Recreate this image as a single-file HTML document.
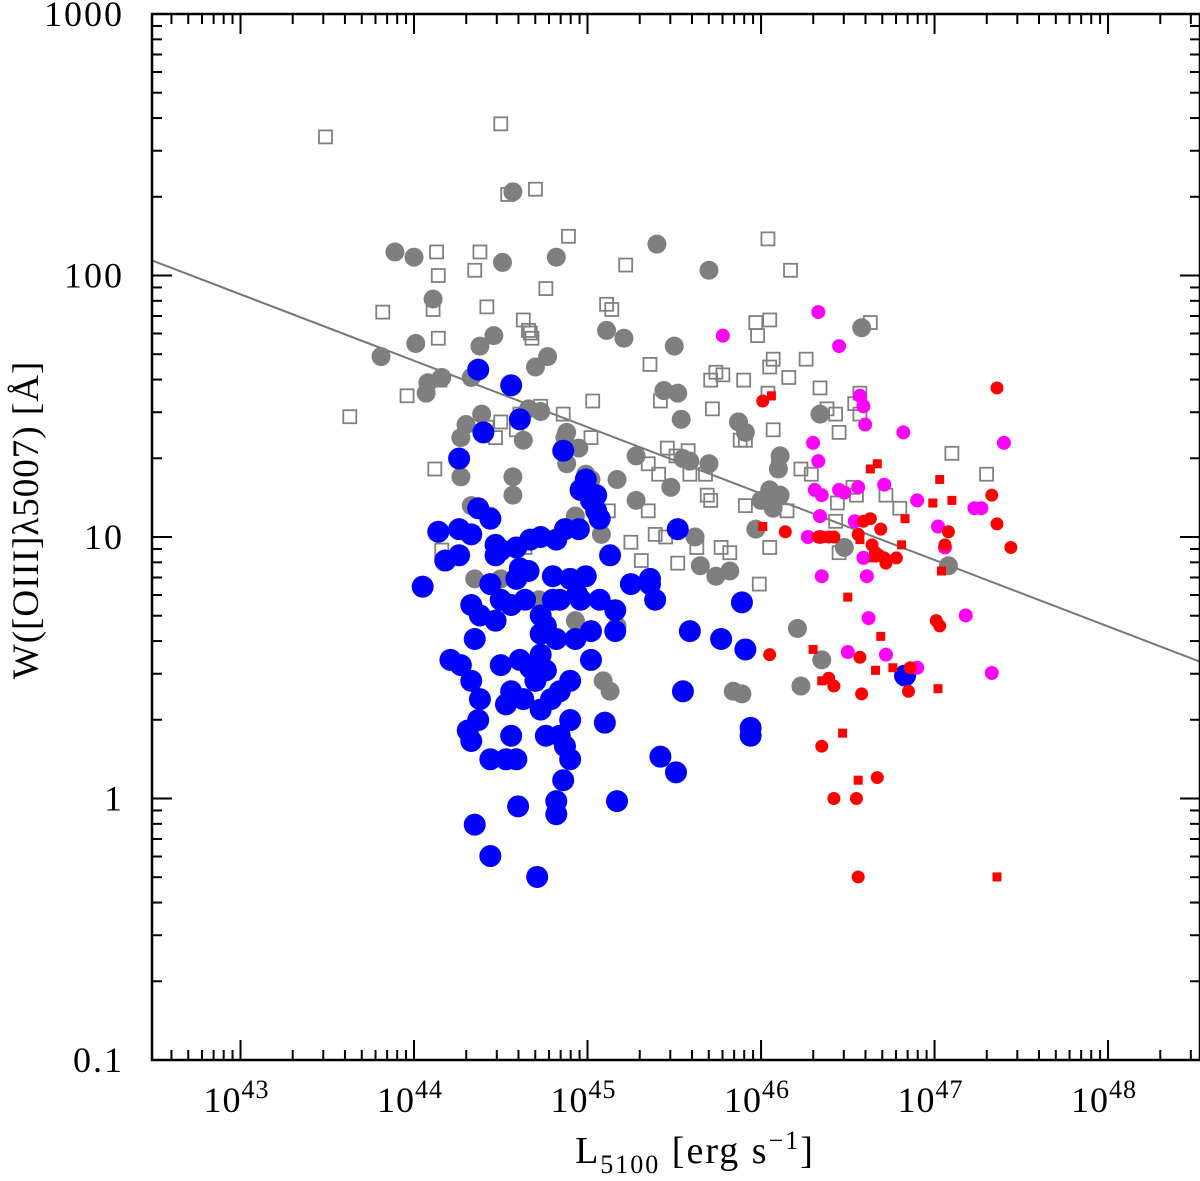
<!DOCTYPE html>
<html><head><meta charset="utf-8"><style>
html,body{margin:0;padding:0;background:#fff;}
svg{display:block;font-family:"Liberation Serif",serif;}
</style></head><body>
<svg id="chart" width="1200" height="1181" viewBox="0 0 1200 1181" xmlns="http://www.w3.org/2000/svg">
<g id="marks"></g>
<g id="axes"></g>
</svg>
<script>
// log10(L5100) and log10(W) data
const blueL=[44.56,44.37,44.40,44.26,44.14,44.18,44.05,44.37,44.44,44.33,44.47,44.50,44.59,44.67,44.73,44.66,44.61,44.59,44.64,44.44,44.33,44.38,44.47,44.50,44.56,44.21,44.27,44.35,44.33,44.38,44.37,44.31,44.33,44.50,44.56,44.61,44.73,44.76,44.67,44.73,44.76,44.73,44.82,44.87,44.80,44.80,44.90,44.99,44.96,44.93,44.90,44.84,44.73,44.70,44.79,44.90,44.90,44.86,44.82,44.82,44.60,44.53,44.56,44.59,44.53,44.44,44.35,44.44,44.71,44.61,44.86,44.99,45.05,45.07,45.02,45.05,45.13,45.07,45.16,45.16,45.02,45.02,45.10,45.17,45.25,45.36,45.39,45.36,45.52,45.59,45.55,45.42,45.51,45.77,45.91,45.89,45.94,45.94,46.83,44.95,44.96,44.82,44.94,44.76,44.87,44.26,44.63,44.84,44.84,44.26,44.47];
const blueW=[1.58,1.64,1.40,1.30,1.02,0.91,0.81,1.11,1.07,1.01,0.97,0.95,0.96,0.99,1.00,0.87,0.88,0.84,0.76,0.82,0.74,0.70,0.68,0.76,0.74,0.53,0.51,0.61,0.45,0.38,0.30,0.26,0.22,0.51,0.41,0.53,0.55,0.49,0.50,0.70,0.66,0.63,0.99,1.03,0.85,0.76,0.84,0.85,0.76,0.61,0.45,0.41,0.34,0.45,0.38,0.30,0.15,0.07,-0.01,-0.06,-0.03,0.15,0.24,0.15,0.36,0.15,-0.10,-0.22,-0.30,1.45,1.33,1.22,1.16,1.07,1.14,1.10,0.93,0.76,0.72,0.64,0.64,0.53,0.29,-0.01,0.82,0.84,0.76,0.82,1.03,0.64,0.41,0.16,0.10,0.61,0.57,0.75,0.27,0.24,0.47,1.03,1.18,0.61,0.78,0.24,0.20,0.93,0.38,0.24,0.76,1.03,0.93];
const grayL=[43.81,43.89,44.00,44.01,44.11,44.08,44.07,44.16,44.33,44.38,44.46,44.51,44.39,44.30,44.27,44.27,44.44,44.33,44.57,44.57,44.63,44.66,44.70,44.73,44.77,44.82,44.88,44.87,44.95,44.88,44.99,45.02,44.93,45.08,45.11,45.21,45.17,45.28,45.28,45.40,45.44,45.50,45.52,45.54,45.48,45.55,45.59,45.70,45.70,45.62,45.65,45.74,45.82,45.84,45.89,45.87,45.91,45.97,46.00,46.05,46.11,46.11,46.10,46.07,46.21,46.23,46.34,46.35,46.48,46.58,47.08,45.09,45.13,44.93,45.17,44.57,44.35,44.50,44.72];
const grayW=[1.69,2.09,2.07,1.74,1.91,1.59,1.55,1.61,1.61,1.73,1.77,2.05,1.47,1.43,1.38,1.23,1.08,1.12,1.23,1.16,1.37,1.49,1.65,1.48,1.69,2.07,1.40,1.38,1.34,1.28,1.24,1.22,1.08,1.01,1.79,1.76,1.22,1.31,1.14,2.12,1.56,1.73,1.55,1.45,1.19,1.30,1.29,1.28,2.02,1.00,0.89,0.85,0.87,0.41,0.40,1.44,1.40,1.03,1.14,1.18,1.16,1.31,1.26,1.11,0.65,0.43,1.47,0.53,0.96,1.80,0.89,0.45,0.41,0.68,0.66,2.32,0.84,0.84,0.76];
const openL=[43.49,44.50,44.54,44.70,44.89,44.13,44.38,44.35,44.14,44.42,44.11,43.82,44.76,45.22,45.11,45.14,44.63,44.66,44.67,44.14,44.68,43.96,43.63,44.15,44.73,44.61,44.50,44.59,44.42,44.47,45.03,45.02,44.86,44.12,44.16,44.64,45.02,45.12,45.36,45.42,45.46,45.35,45.41,45.35,45.51,45.58,45.59,45.68,45.71,45.72,45.74,45.69,45.71,45.78,45.90,45.88,45.91,45.91,45.77,45.82,45.97,45.98,46.05,46.07,46.05,46.04,46.16,46.07,46.10,46.23,46.26,46.34,46.38,46.43,46.29,46.45,46.05,46.15,46.44,46.43,46.45,46.57,46.53,46.55,46.63,46.72,46.80,47.10,47.30,45.99,46.04,46.17,45.13,45.25,45.45,45.63,45.39,45.31,45.52,46.54,46.57];
const openW=[2.53,2.58,2.31,2.33,2.15,2.09,2.09,2.02,2.00,1.88,1.87,1.86,1.95,2.04,1.89,1.87,1.83,1.79,1.78,1.76,1.76,1.54,1.46,1.60,1.50,1.47,1.44,1.41,1.42,1.38,1.52,1.38,1.47,1.26,0.95,0.96,1.15,1.10,1.66,1.52,1.34,1.28,1.24,1.10,1.31,1.33,1.24,1.24,1.60,1.49,1.63,1.16,1.14,1.62,1.60,1.37,1.37,1.12,0.96,0.94,1.82,1.77,1.83,1.68,1.65,1.55,1.61,1.41,1.28,1.26,1.68,1.57,1.49,1.47,1.24,1.40,0.96,1.10,1.13,1.06,0.94,1.47,1.19,1.16,1.82,1.16,1.11,1.32,1.24,0.82,2.14,2.02,0.93,0.98,1.00,0.96,1.01,0.91,0.90,1.51,1.55];
const magL=[45.78,46.33,46.45,46.57,46.59,46.60,46.30,46.33,46.31,46.35,46.48,46.56,46.71,46.82,46.90,47.02,47.06,47.23,47.27,47.40,46.27,46.34,46.35,46.50,46.61,46.59,46.62,46.72,46.90,47.18,47.33,46.45,46.54,46.34];
const magW=[1.77,1.86,1.73,1.54,1.50,1.43,1.36,1.29,1.18,1.16,1.17,1.19,1.20,1.40,1.14,1.04,0.96,1.11,1.11,1.36,1.00,1.00,0.85,0.56,0.85,0.92,0.69,0.55,0.50,0.70,0.48,1.18,1.06,1.08];
const redCL=[46.01,46.14,46.05,46.33,46.35,46.39,46.42,46.39,46.42,46.35,46.42,46.55,46.56,46.58,46.59,46.63,46.66,46.68,46.71,46.72,46.78,46.85,47.01,47.03,47.06,47.08,46.86,46.67,47.33,47.36,47.44,47.36,46.56,46.64,46.69,46.57];
const redCW=[1.52,1.02,0.55,1.00,1.00,1.00,1.00,0.46,0.43,0.20,0.00,0.00,-0.30,0.40,1.06,1.07,0.94,0.93,0.92,0.90,0.92,0.41,0.68,0.66,0.97,1.02,0.50,0.08,1.16,1.05,0.96,1.57,1.01,0.97,1.03,0.54];
const redSL=[46.06,46.63,46.67,46.01,46.30,46.47,46.56,46.50,46.83,46.81,46.69,46.66,46.76,47.03,47.10,46.99,47.04,47.02,47.36,46.65,46.57,46.35];
const redSW=[1.54,1.26,1.28,1.04,0.57,0.25,0.07,0.77,1.07,0.97,0.62,0.49,0.50,1.22,1.14,1.13,0.87,0.42,-0.30,0.92,0.99,0.45];
const fitIntercept=12.85, fitSlope=-0.254;
const yTicks=[-1,0,1,2,3];
const yTickLabels=["0.1","1","10","100","1000"];
const xTicks=[43,44,45,46,47,48];

const X0=152,X1=1200,Y0=14,Y1=1060;
const LMIN=42.49,LMAX=48.53,WMIN=-1,WMAX=3;
function xs(v){return X0+(v-LMIN)/(LMAX-LMIN)*(X1-X0);}
function ys(v){return Y1-(v-WMIN)/(WMAX-WMIN)*(Y1-Y0);}
const NS="http://www.w3.org/2000/svg";
const marks=document.getElementById('marks'), axes=document.getElementById('axes');
function mk(tag,attrs,parent){const e=document.createElementNS(NS,tag);for(const k in attrs)e.setAttribute(k,attrs[k]);parent.appendChild(e);return e;}

const defs=mk('defs',{},marks);
const cp=mk('clipPath',{id:'clip'},defs);
mk('rect',{x:X0,y:Y0,width:X1-X0,height:Y1-Y0},cp);
const g=mk('g',{'clip-path':'url(#clip)'},marks);

const fit=mk('line',{x1:xs(LMIN),y1:ys(fitIntercept+fitSlope*LMIN),x2:xs(LMAX),y2:ys(fitIntercept+fitSlope*LMAX),stroke:'#777','stroke-width':2},g);



for(let i=0;i<openL.length;i++){
  const e=mk('rect',{x:xs(openL[i])-6.5,y:ys(openW[i])-6.5,width:13,height:13,fill:'none',stroke:'#808080','stroke-width':1.8},g);
  
  
}
for(let i=0;i<grayL.length;i++){
  const e=mk('circle',{cx:xs(grayL[i]),cy:ys(grayW[i]),r:9.5,fill:'#7f7f7f'},g);
  
  
}
for(let i=0;i<blueL.length;i++){
  const e=mk('circle',{cx:xs(blueL[i]),cy:ys(blueW[i]),r:11,fill:'#0000ff'},g);
  
  
}
for(let i=0;i<magL.length;i++){
  const e=mk('circle',{cx:xs(magL[i]),cy:ys(magW[i]),r:7,fill:'#ff00ff'},g);
  
  
}
for(let i=0;i<redCL.length;i++){
  const e=mk('circle',{cx:xs(redCL[i]),cy:ys(redCW[i]),r:6.5,fill:'#ff0000'},g);
  
  
}
for(let i=0;i<redSL.length;i++){
  const e=mk('rect',{x:xs(redSL[i])-4.5,y:ys(redSW[i])-4.5,width:9,height:9,fill:'#ff0000'},g);
  
  
}

const fr=mk('rect',{x:X0,y:Y0,width:X1-X0,height:Y1-Y0,fill:'none',stroke:'#000','stroke-width':2.5},axes);



for(let d=-1;d<3;d++){for(let m=1;m<10;m++){const v=d+Math.log10(m);const y=ys(v);const len=m===1?20:10;
  mk('line',{x1:X0,y1:y,x2:X0+len,y2:y,stroke:'#000','stroke-width':2},axes);
  mk('line',{x1:X1,y1:y,x2:X1-len,y2:y,stroke:'#000','stroke-width':2},axes);}}
for(let d=42;d<49;d++){for(let m=1;m<10;m++){const v=d+Math.log10(m);if(v<LMIN||v>LMAX)continue;const x=xs(v);const len=m===1?20:10;
  mk('line',{x1:x,y1:Y1,x2:x,y2:Y1-len,stroke:'#000','stroke-width':2},axes);
  mk('line',{x1:x,y1:Y0,x2:x,y2:Y0+len,stroke:'#000','stroke-width':2},axes);}}

yTicks.forEach((v,i)=>{const t=mk('text',{x:124,y:ys(v)+12,'text-anchor':'end','font-size':36,'letter-spacing':2},axes);t.textContent=yTickLabels[i];
  
  });
xTicks.forEach(v=>{const t=mk('text',{x:xs(v)-4,y:1112,'text-anchor':'middle','font-size':36,'letter-spacing':1},axes);
  
  
  const a=mk('tspan',{},t);a.textContent='10';const b=mk('tspan',{dy:-14,'font-size':26},t);b.textContent=String(v);});

const xt=mk('text',{x:695,y:1163,'text-anchor':'middle','font-size':38,'letter-spacing':2},axes);


const t1=mk('tspan',{},xt);t1.textContent='L';
const t2=mk('tspan',{dy:10,'font-size':26},xt);t2.textContent='5100';
const t3=mk('tspan',{dy:-10},xt);t3.textContent=' [erg s';
const t4=mk('tspan',{dy:-14,'font-size':26},xt);t4.textContent='−1';
const t5=mk('tspan',{dy:14},xt);t5.textContent=']';

const yt=mk('text',{x:0,y:0,'text-anchor':'middle','font-size':37,'letter-spacing':1,transform:'translate(38,520) rotate(-90)'},axes);


yt.textContent='W([OIII]λ5007) [Å]';
</script>
</body></html>
